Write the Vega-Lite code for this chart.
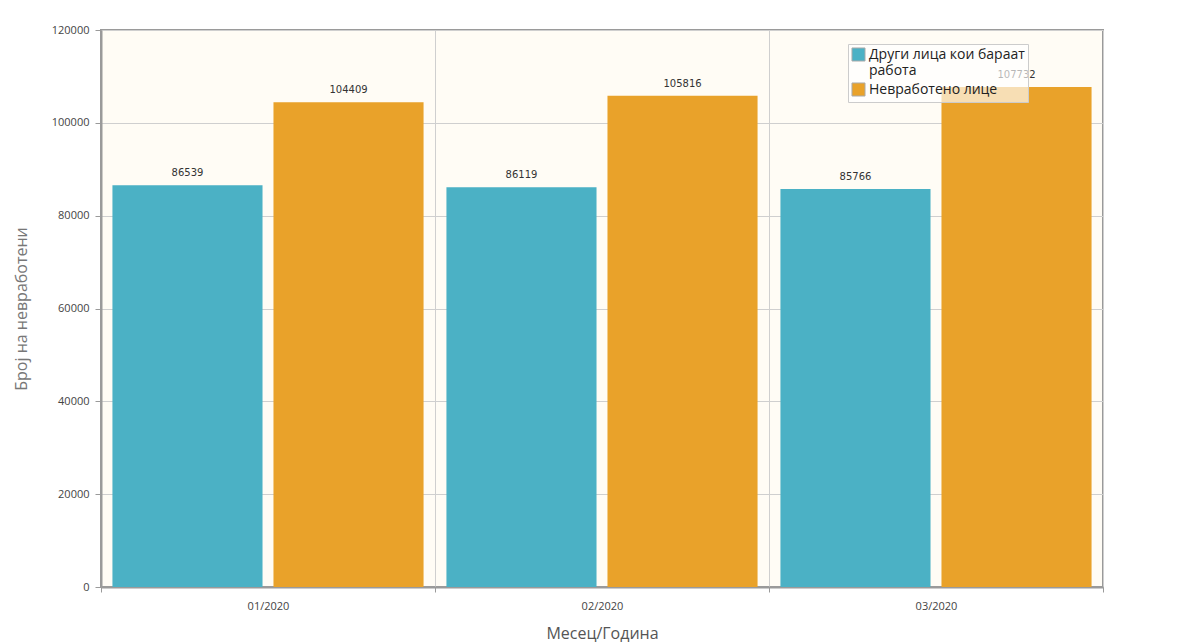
{
  "$schema": "https://vega.github.io/schema/vega-lite/v6.json",
  "width": 1002,
  "height": 557,
  "autosize": {"type": "none"},
  "padding": {"left": 101, "top": 30, "right": 86, "bottom": 56},
  "background": "white",
  "config": {
    "font": "Open Sans",
    "view": {"fill": "#FFFCF5", "stroke": "#9a9a9a", "strokeWidth": 2}
  },
  "data": {
    "values": [
      {"month": "01/2020", "series": "Други лица кои бараат работа", "value": 86539},
      {"month": "01/2020", "series": "Невработено лице", "value": 104409},
      {"month": "02/2020", "series": "Други лица кои бараат работа", "value": 86119},
      {"month": "02/2020", "series": "Невработено лице", "value": 105816},
      {"month": "03/2020", "series": "Други лица кои бараат работа", "value": 85766},
      {"month": "03/2020", "series": "Невработено лице", "value": 107732}
    ]
  },
  "encoding": {
    "x": {
      "field": "month", "type": "nominal",
      "scale": {"paddingInner": 0, "paddingOuter": 0},
      "axis": {
        "title": "Месец/Година", "titleFontSize": 16, "titleFontWeight": "normal",
        "titleColor": "#555", "titlePadding": 14,
        "labelAngle": 0, "labelFontSize": 11, "labelColor": "#444", "labelPadding": 8,
        "tickBand": "extent", "grid": true, "gridColor": "#cfcfcf", "gridWidth": 1,
        "domainColor": "#9a9a9a", "domainWidth": 2, "tickColor": "#9a9a9a", "tickSize": 5
      }
    },
    "xOffset": {"field": "series", "type": "nominal", "scale": {"paddingInner": 0.068, "paddingOuter": 0.071}},
    "y": {
      "field": "value", "type": "quantitative",
      "scale": {"domain": [0, 120000], "nice": false},
      "axis": {
        "title": "Број на невработени", "titleFontSize": 16, "titleFontWeight": "normal",
        "titleColor": "#777", "titlePadding": 22,
        "values": [0, 20000, 40000, 60000, 80000, 100000, 120000], "format": "d",
        "labelFontSize": 11, "labelColor": "#444", "labelPadding": 6,
        "grid": true, "gridColor": "#cfcfcf", "gridWidth": 1,
        "domainColor": "#9a9a9a", "domainWidth": 2, "tickColor": "#9a9a9a", "tickSize": 6
      }
    },
    "color": {
      "field": "series", "type": "nominal",
      "scale": {"domain": ["Други лица кои бараат работа", "Невработено лице"], "range": ["#4BB1C5", "#E9A22A"]},
      "legend": {
        "title": null, "orient": "none", "legendX": 747, "legendY": 14,
        "labelFontSize": 14, "labelColor": "#222", "labelFont": "Open Sans",
        "labelExpr": "datum.label == 'Други лица кои бараат работа' ? ['Други лица кои бараат', 'работа'] : datum.label",
        "symbolType": "square", "symbolSize": 170, "symbolStrokeColor": "#aaa", "symbolStrokeWidth": 1,
        "symbolOpacity": 1, "rowPadding": 2, "labelOffset": 3,
        "padding": 3, "fillColor": "rgba(255,255,255,0.65)", "strokeColor": "#cccccc"
      }
    }
  },
  "layer": [
    {"mark": {"type": "bar", "opacity": 1}},
    {
      "mark": {"type": "text", "dy": -12, "fontSize": 10, "color": "#333", "font": "DejaVu Sans"},
      "encoding": {"text": {"field": "value", "type": "quantitative", "format": "d"}, "color": {"value": "#333"}}
    }
  ]
}
